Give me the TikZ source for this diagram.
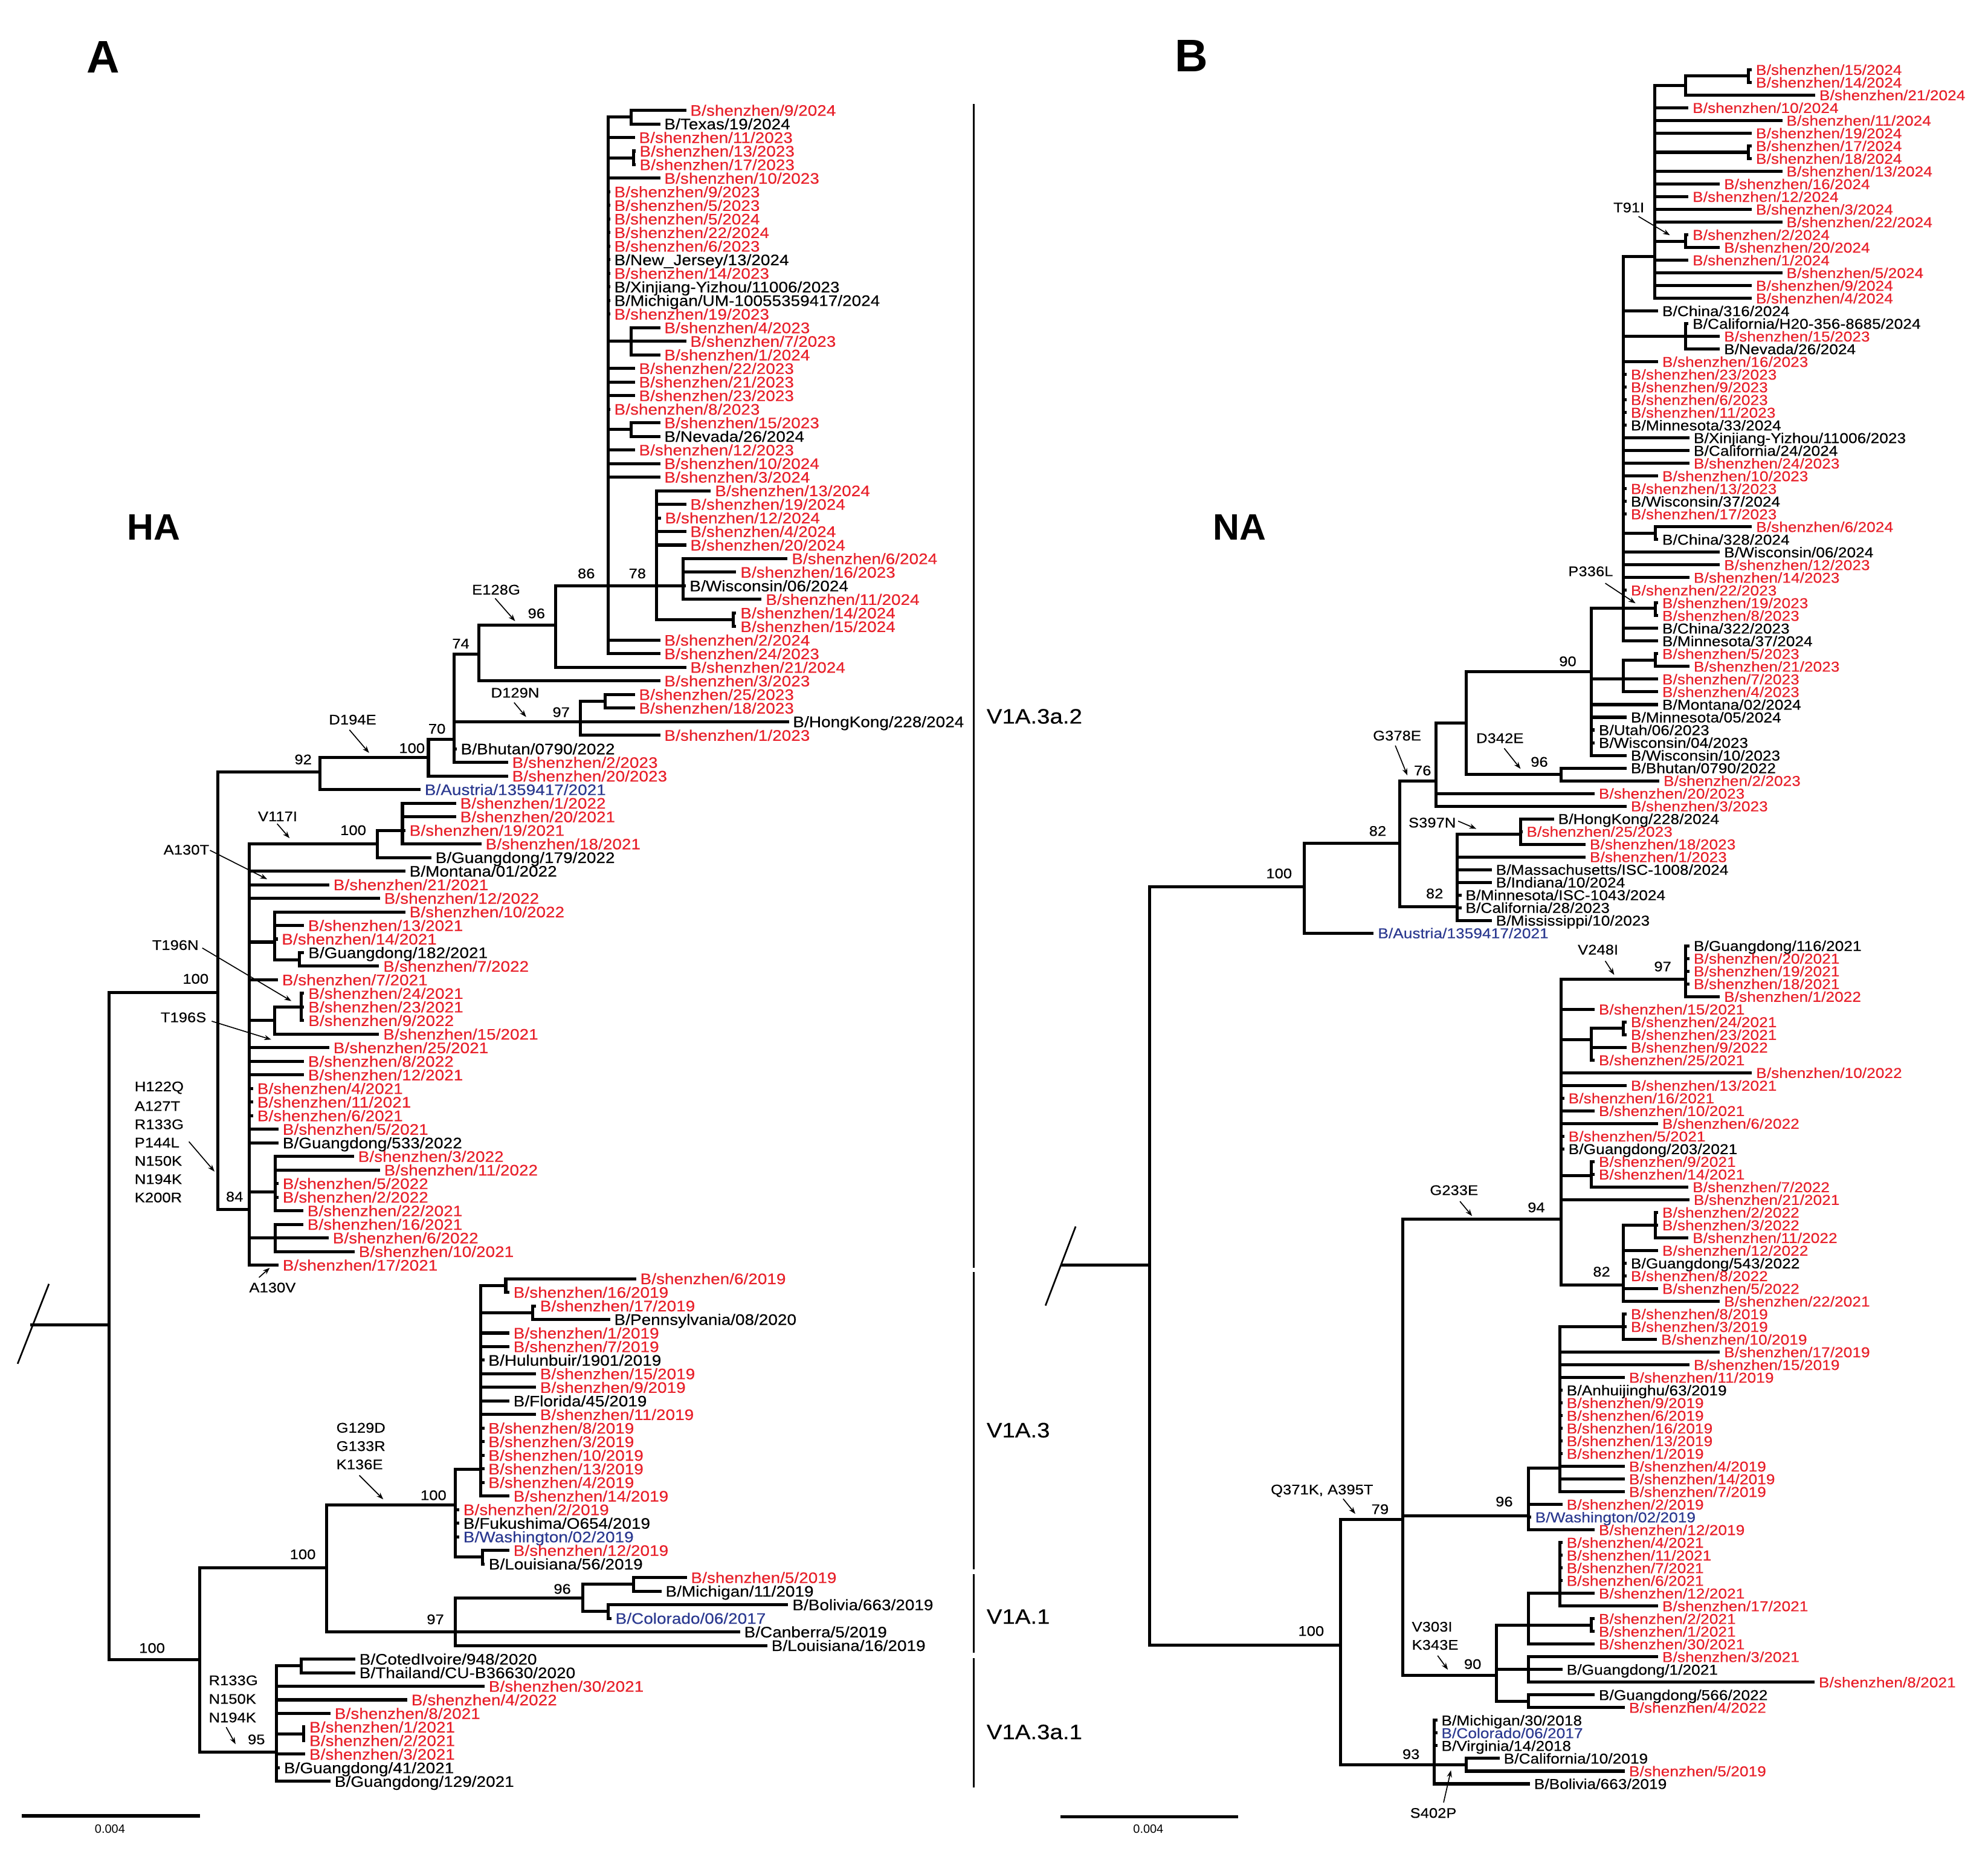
\documentclass[tikz,border=0pt]{standalone}
\usepackage{fontspec}
\setmainfont{Liberation Sans}[FakeStretch=1.11,FakeBold=0.35]
\newfontfamily\plainfont{Liberation Sans}
\usetikzlibrary{arrows.meta}
\definecolor{szred}{HTML}{E8202A}
\definecolor{szblue}{HTML}{2B3990}
\newcommand\SZ{B/shenzhen/}
\newcommand\ya[1]{87+(#1-1)*10.715}
\newcommand\yb[1]{55+(#1-1)*10.014}
\newcommand\LA[5]{\node[lfa,#4] (a#1) at (#3,{87+(#1-1)*10.715}) {#5};\draw[br] (#2,{87+(#1-1)*10.715}) -- (a#1.west);}
\newcommand\LB[5]{\node[lfb,#4] (b#1) at (#3,{55+(#1-1)*10.014}) {#5};\draw[br] (#2,{55+(#1-1)*10.014}) -- (b#1.west);}
\tikzset{
  br/.style={line width=2.4pt, line cap=rect},
  lfa/.style={anchor=west, inner xsep=4.3pt, inner ysep=0pt, text height=8.6pt, text depth=0pt, font=\fontsize{12}{12}\selectfont},
  lfb/.style={anchor=west, inner xsep=4.3pt, inner ysep=0pt, text height=8.1pt, text depth=0pt, font=\fontsize{11.3}{11.3}\selectfont},
  rd/.style={text=szred}, bl/.style={text=szblue}, bk/.style={text=black},
  sup/.style={inner sep=0pt, font=\fontsize{11}{11}\selectfont},
  mutl/.style={inner sep=0pt, font=\fontsize{11}{11}\selectfont},
  mut/.style={-{Stealth[length=5.5pt,width=4pt]}, line width=0.8pt},
  clade/.style={anchor=west, inner sep=0pt, font=\fontsize{16.5}{16.5}\selectfont},
  sep/.style={line width=1.2pt},
}
\begin{document}
\begin{tikzpicture}[x=1pt,y=-1pt]
\fill[white] (0,0) rectangle (1568,1469);
\useasboundingbox (0,0) rectangle (1568,1469);

% ---------------- panel letters and titles
\node[font=\plainfont\bfseries\fontsize{36}{36}\selectfont, inner sep=0pt] (pA) at (81.5,45) {A};
\node[font=\plainfont\bfseries\fontsize{36}{36}\selectfont, inner sep=0pt] (pB) at (939.7,44) {B};
\node[font=\plainfont\bfseries\fontsize{29}{29}\selectfont, inner sep=0pt] (ha) at (121.5,416) {HA};
\node[font=\plainfont\bfseries\fontsize{29}{29}\selectfont, inner sep=0pt] (na) at (977.8,416) {NA};

% ================= PANEL A : internal branches
\draw[br] (498,{\ya{1}}) -- (498,{\ya{2}});
\draw[br] (479.5,92.4) -- (498,92.4);
\draw[br] (499.5,{\ya{4}}) -- (499.5,{\ya{5}});
\draw[br] (479.5,124.5) -- (499.5,124.5);
\draw[br] (498,{\ya{17}}) -- (498,{\ya{19}});
\draw[br] (498,{\ya{24}}) -- (498,{\ya{25}});
\draw[br] (479.5,338.8) -- (498,338.8);
\draw[br] (479.5,92.4) -- (479.5,{\ya{41}});
\draw[br] (438,462) -- (539,462);
\draw[br] (517.7,{\ya{29}}) -- (517.7,488.9);
\draw[br] (539,{\ya{34}}) -- (539,{\ya{37}});
\draw[br] (578.5,{\ya{38}}) -- (578.5,{\ya{39}});
\draw[br] (517.7,488.9) -- (578.5,488.9);
\draw[br] (438,462) -- (438,{\ya{42}});
\draw[br] (377.5,493) -- (438,493);
\draw[br] (377.5,493) -- (377.5,{\ya{43}});
\draw[br] (477.4,{\ya{44}}) -- (477.4,{\ya{45}});
\draw[br] (457.7,553.1) -- (477.4,553.1);
\draw[br] (457.7,553.1) -- (457.7,{\ya{47}});
\draw[br] (358,515.7) -- (377.5,515.7);
\draw[br] (358,515.7) -- (358,{\ya{49}});
\draw[br] (337.9,583) -- (358,583);
\draw[br] (337.9,583) -- (337.9,{\ya{50}});
\draw[br] (252.2,597.5) -- (337.9,597.5);
\draw[br] (252.2,597.5) -- (252.2,{\ya{51}});
\draw[br] (172,609) -- (252.2,609);
\draw[br] (172,609) -- (172,953.8);
\draw[br] (172,953.8) -- (196.8,953.8);
\draw[br] (196.8,665.5) -- (196.8,{\ya{86}});
\draw[br] (196.8,665.5) -- (297.6,665.5);
\draw[br] (297.6,{\ya{54}}) -- (297.6,{\ya{56}});
\draw[br] (297.6,{\ya{54}}) -- (317.4,{\ya{54}});
\draw[br] (317.4,{\ya{52}}) -- (317.4,{\ya{55}});
\draw[br] (196.8,743) -- (216.6,743);
\draw[br] (216.6,{\ya{60}}) -- (216.6,756.9);
\draw[br] (216.6,756.9) -- (236.3,756.9);
\draw[br] (236.3,{\ya{63}}) -- (236.3,{\ya{64}});
\draw[br] (216.6,{\ya{67}}) -- (237.5,{\ya{67}});
\draw[br] (237.5,{\ya{66}}) -- (237.5,{\ya{68}});
\draw[br] (196.8,{\ya{68}}) -- (216.6,{\ya{68}});
\draw[br] (216.6,{\ya{67}}) -- (216.6,{\ya{69}});
\draw[br] (196.8,940.3) -- (217,940.3);
\draw[br] (217,{\ya{78}}) -- (217,{\ya{82}});
\draw[br] (217,{\ya{83}}) -- (217,{\ya{85}});
\draw[br] (86.2,782.7) -- (172,782.7);
\draw[br] (86.2,782.7) -- (86.2,1309);
\draw[br] (24.8,1045) -- (86.2,1045);
\draw[line width=1.3pt] (38.6,1012.6) -- (13.9,1075.6);
\draw[br] (86.2,1309) -- (157.6,1309);
\draw[br] (157.6,1236.3) -- (157.6,1381.8);
\draw[br] (157.6,1236.3) -- (257.7,1236.3);
\draw[br] (257.7,1187.1) -- (257.7,{\ya{113}});
\draw[br] (257.7,1187.1) -- (359.2,1187.1);
\draw[br] (359.2,1159) -- (359.2,1228.1);
\draw[br] (359.2,1159) -- (379,1159);
\draw[br] (379,1013.8) -- (379,{\ya{103}});
\draw[br] (379,1013.8) -- (398.9,1013.8);
\draw[br] (398.9,{\ya{87}}) -- (398.9,{\ya{88}});
\draw[br] (379,1035.3) -- (420.2,1035.3);
\draw[br] (420.2,{\ya{89}}) -- (420.2,{\ya{90}});
\draw[br] (359.2,1228.1) -- (380.5,1228.1);
\draw[br] (380.5,{\ya{107}}) -- (380.5,{\ya{108}});
\draw[br] (359.2,1260.3) -- (459.8,1260.3);
\draw[br] (359.2,1260.3) -- (359.2,{\ya{114}});
\draw[br] (459.8,1249.6) -- (459.8,1271.0);
\draw[br] (459.8,1249.6) -- (499.5,1249.6);
\draw[br] (499.5,{\ya{109}}) -- (499.5,{\ya{110}});
\draw[br] (459.8,1271.0) -- (479.6,1271.0);
\draw[br] (479.6,{\ya{111}}) -- (479.6,{\ya{112}});
\draw[br] (157.6,1381.8) -- (218,1381.8);
\draw[br] (218,1313.9) -- (218,{\ya{124}});
\draw[br] (218,1313.9) -- (237.8,1313.9);
\draw[br] (237.8,{\ya{115}}) -- (237.8,{\ya{116}});
\draw[br] (218,1367.5) -- (239.3,1367.5);
\draw[br] (239.3,{\ya{120}}) -- (239.3,{\ya{121}});

% ================= PANEL A : leaves
\LA{1}{498}{540}{rd}{\SZ 9/2024}
\LA{2}{498}{519.5}{bk}{B/Texas/19/2024}
\LA{3}{479.5}{499.5}{rd}{\SZ 11/2023}
\LA{4}{499.5}{500}{rd}{\SZ 13/2023}
\LA{5}{499.5}{500}{rd}{\SZ 17/2023}
\LA{6}{479.5}{519.5}{rd}{\SZ 10/2023}
\LA{7}{479.5}{480}{rd}{\SZ 9/2023}
\LA{8}{479.5}{480}{rd}{\SZ 5/2023}
\LA{9}{479.5}{480}{rd}{\SZ 5/2024}
\LA{10}{479.5}{480}{rd}{\SZ 22/2024}
\LA{11}{479.5}{480}{rd}{\SZ 6/2023}
\LA{12}{479.5}{480}{bk}{B/New\_Jersey/13/2024}
\LA{13}{479.5}{480}{rd}{\SZ 14/2023}
\LA{14}{479.5}{480}{bk}{B/Xinjiang-Yizhou/11006/2023}
\LA{15}{479.5}{480}{bk}{B/Michigan/UM-10055359417/2024}
\LA{16}{479.5}{480}{rd}{\SZ 19/2023}
\LA{17}{498}{519.5}{rd}{\SZ 4/2023}
\LA{18}{479.5}{540}{rd}{\SZ 7/2023}
\LA{19}{498}{519.5}{rd}{\SZ 1/2024}
\LA{20}{479.5}{499.5}{rd}{\SZ 22/2023}
\LA{21}{479.5}{499.5}{rd}{\SZ 21/2023}
\LA{22}{479.5}{499.5}{rd}{\SZ 23/2023}
\LA{23}{479.5}{480}{rd}{\SZ 8/2023}
\LA{24}{498}{519.5}{rd}{\SZ 15/2023}
\LA{25}{498}{519.5}{bk}{B/Nevada/26/2024}
\LA{26}{479.5}{499.5}{rd}{\SZ 12/2023}
\LA{27}{479.5}{519.5}{rd}{\SZ 10/2024}
\LA{28}{479.5}{519.5}{rd}{\SZ 3/2024}
\LA{29}{517.7}{559.5}{rd}{\SZ 13/2024}
\LA{30}{517.7}{540}{rd}{\SZ 19/2024}
\LA{31}{517.7}{520}{rd}{\SZ 12/2024}
\LA{32}{517.7}{540}{rd}{\SZ 4/2024}
\LA{33}{517.7}{540}{rd}{\SZ 20/2024}
\LA{34}{539}{620}{rd}{\SZ 6/2024}
\LA{35}{539}{579.5}{rd}{\SZ 16/2023}
\LA{36}{539}{539.5}{bk}{B/Wisconsin/06/2024}
\LA{37}{539}{599.5}{rd}{\SZ 11/2024}
\LA{38}{578.5}{579.5}{rd}{\SZ 14/2024}
\LA{39}{578.5}{579.5}{rd}{\SZ 15/2024}
\LA{40}{479.5}{519.5}{rd}{\SZ 2/2024}
\LA{41}{479.5}{519.5}{rd}{\SZ 24/2023}
\LA{42}{438}{540}{rd}{\SZ 21/2024}
\LA{43}{377.5}{519.5}{rd}{\SZ 3/2023}
\LA{44}{477.4}{499.5}{rd}{\SZ 25/2023}
\LA{45}{477.4}{499.5}{rd}{\SZ 18/2023}
\LA{46}{358}{621}{bk}{B/HongKong/228/2024}
\LA{47}{457.7}{519.5}{rd}{\SZ 1/2023}
\LA{48}{358}{359}{bk}{B/Bhutan/0790/2022}
\LA{49}{358}{399.5}{rd}{\SZ 2/2023}
\LA{50}{337.9}{399.5}{rd}{\SZ 20/2023}
\LA{51}{252.2}{330.5}{bl}{B/Austria/1359417/2021}
\LA{52}{317.4}{358.5}{rd}{\SZ 1/2022}
\LA{53}{317.4}{358.5}{rd}{\SZ 20/2021}
\LA{54}{317.4}{318.5}{rd}{\SZ 19/2021}
\LA{55}{317.4}{378.5}{rd}{\SZ 18/2021}
\LA{56}{297.6}{339}{bk}{B/Guangdong/179/2022}
\LA{57}{196.8}{318.5}{bk}{B/Montana/01/2022}
\LA{58}{196.8}{258.5}{rd}{\SZ 21/2021}
\LA{59}{196.8}{298.5}{rd}{\SZ 12/2022}
\LA{60}{216.6}{318.5}{rd}{\SZ 10/2022}
\LA{61}{216.6}{238.5}{rd}{\SZ 13/2021}
\LA{62}{216.6}{217.8}{rd}{\SZ 14/2021}
\LA{63}{236.3}{238.7}{bk}{B/Guangdong/182/2021}
\LA{64}{236.3}{297.8}{rd}{\SZ 7/2022}
\LA{65}{196.8}{218}{rd}{\SZ 7/2021}
\LA{66}{237.5}{238.7}{rd}{\SZ 24/2021}
\LA{67}{237.5}{238.7}{rd}{\SZ 23/2021}
\LA{68}{237.5}{238.7}{rd}{\SZ 9/2022}
\LA{69}{216.6}{297.8}{rd}{\SZ 15/2021}
\LA{70}{196.8}{258.5}{rd}{\SZ 25/2021}
\LA{71}{196.8}{238.5}{rd}{\SZ 8/2022}
\LA{72}{196.8}{238.5}{rd}{\SZ 12/2021}
\LA{73}{196.8}{198.5}{rd}{\SZ 4/2021}
\LA{74}{196.8}{198.5}{rd}{\SZ 11/2021}
\LA{75}{196.8}{198.5}{rd}{\SZ 6/2021}
\LA{76}{196.8}{218.5}{rd}{\SZ 5/2021}
\LA{77}{196.8}{218.5}{bk}{B/Guangdong/533/2022}
\LA{78}{217}{278}{rd}{\SZ 3/2022}
\LA{79}{217}{298.5}{rd}{\SZ 11/2022}
\LA{80}{217}{218.5}{rd}{\SZ 5/2022}
\LA{81}{217}{218.5}{rd}{\SZ 2/2022}
\LA{82}{217}{238}{rd}{\SZ 22/2021}
\LA{83}{217}{238}{rd}{\SZ 16/2021}
\LA{84}{196.8}{258}{rd}{\SZ 6/2022}
\LA{85}{217}{278.5}{rd}{\SZ 10/2021}
\LA{86}{196.8}{218.5}{rd}{\SZ 17/2021}
\LA{87}{398.9}{500.5}{rd}{\SZ 6/2019}
\LA{88}{398.9}{400.5}{rd}{\SZ 16/2019}
\LA{89}{420.2}{421.5}{rd}{\SZ 17/2019}
\LA{90}{420.2}{480}{bk}{B/Pennsylvania/08/2020}
\LA{91}{379}{400.5}{rd}{\SZ 1/2019}
\LA{92}{379}{400.5}{rd}{\SZ 7/2019}
\LA{93}{379}{380.8}{bk}{B/Hulunbuir/1901/2019}
\LA{94}{379}{421.5}{rd}{\SZ 15/2019}
\LA{95}{379}{421.5}{rd}{\SZ 9/2019}
\LA{96}{379}{400.5}{bk}{B/Florida/45/2019}
\LA{97}{379}{421.5}{rd}{\SZ 11/2019}
\LA{98}{379}{380.8}{rd}{\SZ 8/2019}
\LA{99}{379}{380.8}{rd}{\SZ 3/2019}
\LA{100}{379}{380.8}{rd}{\SZ 10/2019}
\LA{101}{379}{380.8}{rd}{\SZ 13/2019}
\LA{102}{379}{380.8}{rd}{\SZ 4/2019}
\LA{103}{379}{400.5}{rd}{\SZ 14/2019}
\LA{104}{359.2}{361}{rd}{\SZ 2/2019}
\LA{105}{359.2}{361}{bk}{B/Fukushima/O654/2019}
\LA{106}{359.2}{361}{bl}{B/Washington/02/2019}
\LA{107}{380.5}{400.5}{rd}{\SZ 12/2019}
\LA{108}{380.5}{381}{bk}{B/Louisiana/56/2019}
\LA{109}{499.5}{540.5}{rd}{\SZ 5/2019}
\LA{110}{499.5}{520.5}{bk}{B/Michigan/11/2019}
\LA{111}{479.6}{620.5}{bk}{B/Bolivia/663/2019}
\LA{112}{479.6}{481}{bl}{B/Colorado/06/2017}
\LA{113}{257.7}{582.5}{bk}{B/Canberra/5/2019}
\LA{114}{359.2}{604}{bk}{B/Louisiana/16/2019}
\LA{115}{237.8}{279}{bk}{B/CotedIvoire/948/2020}
\LA{116}{237.8}{279}{bk}{B/Thailand/CU-B36630/2020}
\LA{117}{218}{381}{rd}{\SZ 30/2021}
\LA{118}{218}{320}{rd}{\SZ 4/2022}
\LA{119}{218}{259.5}{rd}{\SZ 8/2021}
\LA{120}{239.3}{239.6}{rd}{\SZ 1/2021}
\LA{121}{239.3}{239.6}{rd}{\SZ 2/2021}
\LA{122}{218}{239.5}{rd}{\SZ 3/2021}
\LA{123}{218}{219.5}{bk}{B/Guangdong/41/2021}
\LA{124}{218}{259.5}{bk}{B/Guangdong/129/2021}

% ================= PANEL A : support values
\node[sup] (sa86) at (462.4,452.3) {86};
\node[sup] (sa78) at (502.7,452.3) {78};
\node[sup] (sa96) at (423.1,483.8) {96};
\node[sup] (sa74) at (363.4,507.6) {74};
\node[sup] (sa97) at (442.6,561.7) {97};
\node[sup] (sa70) at (344.6,574.8) {70};
\node[sup] (sa100d) at (324.9,590.1) {100};
\node[sup] (sa92) at (239.1,599.0) {92};
\node[sup] (sa100v) at (278.6,654.8) {100};
\node[sup] (sa100a) at (154.3,772) {100};
\node[sup] (sa84) at (185,943.8) {84};
\node[sup] (sa100r) at (119.9,1299.8) {100};
\node[sup] (sa100b) at (238.8,1225.9) {100};
\node[sup] (sa100g) at (341.9,1179.3) {100};
\node[sup] (sa96b) at (443.5,1253.2) {96};
\node[sup] (sa97b) at (343.4,1277.2) {97};
\node[sup] (sa95) at (202.2,1371.9) {95};

% ================= PANEL A : mutations
\node[mutl] (ma1) at (391.3,465.1) {E128G};
\draw[mut] (390.5,471.9) -- (406.3,489.9);
\node[mutl] (ma2) at (406.3,546.4) {D129N};
\draw[mut] (405.5,554.1) -- (415,565.5);
\node[mutl] (ma3) at (278.1,567.6) {D194E};
\draw[mut] (275.6,575.6) -- (291.1,593.8);
\node[mutl] (ma4) at (219,643.9) {V117I};
\draw[mut] (218.6,649.7) -- (228.4,661.1);
\node[mutl] (ma5) at (147,670.2) {A130T};
\draw[mut] (165.6,670.6) -- (210.7,693.4);
\node[mutl] (ma6) at (138.3,745.4) {T196N};
\draw[mut] (159.6,747.7) -- (229.8,789.5);
\node[mutl] (ma7) at (144.7,802.4) {T196S};
\draw[mut] (167,805.4) -- (213.9,819.9);
\foreach \t [count=\i] in {H122Q,A127T,R133G,P144L,N150K,N194K,K200R}
  \node[mutl, anchor=west] (mh\i) at (106,{857.9+(\i-1)*14.43}) {\t};
\draw[mut] (149,900.4) -- (169.2,924);
\node[mutl] (ma8) at (214.9,1015.5) {A130V};
\draw[mut] (204.3,1007.5) -- (212.8,999.9);
\foreach \t [count=\i] in {G129D,G133R,K136E}
  \node[mutl, anchor=west] (mg\i) at (265.1,{1126.1+(\i-1)*14.45}) {\t};
\draw[mut] (283.4,1163.6) -- (302.3,1182.5);
\foreach \t [count=\i] in {R133G,N150K,N194K}
  \node[mutl, anchor=west] (mr\i) at (164.5,{1325.3+(\i-1)*14.65}) {\t};
\draw[mut] (178.4,1362.2) -- (185.8,1375.6);

% ================= PANEL A : clade bar and labels
\draw[sep] (768,82.2) -- (768,999.9);
\draw[sep] (768,1003.3) -- (768,1237.5);
\draw[sep] (768,1241.6) -- (768,1303.3);
\draw[sep] (768,1307.9) -- (768,1409.6);
\node[clade] (c1) at (778,565) {V1A.3a.2};
\node[clade] (c2) at (778,1128) {V1A.3};
\node[clade] (c3) at (778,1275) {V1A.1};
\node[clade] (c4) at (778,1366) {V1A.3a.1};

% scale bars
\draw[line width=2.6pt] (17.3,1432.2) -- (157.6,1432.2);
\node[inner sep=0pt, font=\plainfont\fontsize{9.5}{9.5}\selectfont] (scA) at (86.7,1442.6) {0.004};
\draw[line width=2.6pt] (836.5,1432.8) -- (976.4,1432.8);
\node[inner sep=0pt, font=\plainfont\fontsize{9.5}{9.5}\selectfont] (scB) at (905.7,1442.6) {0.004};

% ================= PANEL B : internal branches
\draw[br] (1379.2,{\yb{1}}) -- (1379.2,{\yb{2}});
\draw[br] (1329.6,60) -- (1379.2,60);
\draw[br] (1329.6,60) -- (1329.6,{\yb{3}});
\draw[br] (1305.2,67.4) -- (1329.6,67.4);
\draw[br] (1305.2,67.4) -- (1305.2,{\yb{19}});
\draw[br] (1379.2,{\yb{7}}) -- (1379.2,{\yb{8}});
\draw[br] (1305.2,120.1) -- (1379.2,120.1);
\draw[br] (1329.6,{\yb{14}}) -- (1329.6,{\yb{15}});
\draw[br] (1305.2,190.2) -- (1329.6,190.2);
\draw[br] (1280.4,202.5) -- (1305.2,202.5);
\draw[br] (1280.4,202.5) -- (1280.4,{\yb{46}});
\draw[br] (1329.6,{\yb{21}}) -- (1329.6,{\yb{23}});
\draw[br] (1305.7,{\yb{37}}) -- (1305.7,{\yb{38}});
\draw[br] (1280.4,420.5) -- (1305.7,420.5);
\draw[br] (1305.7,{\yb{43}}) -- (1305.7,{\yb{44}});
\draw[br] (1255.1,479.5) -- (1305.7,479.5);
\draw[br] (1305.7,{\yb{47}}) -- (1305.7,{\yb{48}});
\draw[br] (1280.4,520.6) -- (1305.7,520.6);
\draw[br] (1280.4,520.6) -- (1280.4,{\yb{50}});
\draw[br] (1255.1,479.5) -- (1255.1,{\yb{55}});
\draw[br] (1231.2,{\yb{56}}) -- (1231.2,{\yb{57}});
\draw[br] (1156.3,610.8) -- (1231.2,610.8);
\draw[br] (1156.3,529.7) -- (1156.3,610.8);
\draw[br] (1156.3,529.7) -- (1255.1,529.7);
\draw[br] (1132.4,570.2) -- (1156.3,570.2);
\draw[br] (1132.4,570.2) -- (1132.4,{\yb{59}});
\draw[br] (1103.8,616.2) -- (1132.4,616.2);
\draw[br] (1103.8,616.2) -- (1103.8,715.3);
\draw[br] (1103.8,715.3) -- (1149.1,715.3);
\draw[br] (1149.1,657.8) -- (1149.1,{\yb{68}});
\draw[br] (1199.3,{\yb{60}}) -- (1199.3,{\yb{62}});
\draw[br] (1149.1,657.8) -- (1199.3,657.8);
\draw[br] (1028.9,665.1) -- (1103.8,665.1);
\draw[br] (1028.9,665.1) -- (1028.9,{\yb{69}});
\draw[br] (906.7,699.6) -- (1028.9,699.6);
\draw[br] (906.7,699.6) -- (906.7,1297.3);
\draw[br] (838,997.9) -- (906.7,997.9);
\draw[line width=1.3pt] (848.4,967.3) -- (824.6,1029.7);
\draw[br] (1329.6,{\yb{70}}) -- (1329.6,{\yb{74}});
\draw[br] (1231.2,772.3) -- (1329.6,772.3);
\draw[br] (1231.2,772.3) -- (1231.2,1013.5);
\draw[br] (1280.4,{\yb{76}}) -- (1280.4,{\yb{77}});
\draw[br] (1255.1,810.8) -- (1280.4,810.8);
\draw[br] (1255.1,810.8) -- (1255.1,{\yb{79}});
\draw[br] (1231.2,819.9) -- (1255.1,819.9);
\draw[br] (1255.1,{\yb{87}}) -- (1255.1,{\yb{89}});
\draw[br] (1231.2,927) -- (1255.1,927);
\draw[br] (1305.7,{\yb{91}}) -- (1305.7,{\yb{93}});
\draw[br] (1280.4,966.3) -- (1305.7,966.3);
\draw[br] (1280.4,966.3) -- (1280.4,{\yb{98}});
\draw[br] (1231.2,1013.5) -- (1280.4,1013.5);
\draw[br] (1106.2,961.6) -- (1231.2,961.6);
\draw[br] (1106.2,961.6) -- (1106.2,1321.2);
\draw[br] (1280.4,{\yb{99}}) -- (1280.4,{\yb{101}});
\draw[br] (1230.3,{\yb{100}}) -- (1280.4,{\yb{100}});
\draw[br] (1230.3,{\yb{100}}) -- (1230.3,{\yb{113}});
\draw[br] (1205.5,1158) -- (1230.3,1158);
\draw[br] (1205.5,1158) -- (1205.5,{\yb{116}});
\draw[br] (1106.2,1195.4) -- (1205.5,1195.4);
\draw[br] (1057.5,1198.6) -- (1106.2,1198.6);
\draw[br] (1057.5,1198.6) -- (1057.5,1391.8);
\draw[br] (906.7,1297.3) -- (1057.5,1297.3);
\draw[br] (1106.2,1321.2) -- (1180.2,1321.2);
\draw[br] (1180.2,1282) -- (1180.2,1341.8);
\draw[br] (1230.3,{\yb{117}}) -- (1230.3,{\yb{122}});
\draw[br] (1205.5,{\yb{121}}) -- (1205.5,{\yb{125}});
\draw[br] (1180.2,1282) -- (1255.1,1282);
\draw[br] (1255.1,{\yb{123}}) -- (1255.1,{\yb{124}});
\draw[br] (1205.5,{\yb{126}}) -- (1205.5,{\yb{128}});
\draw[br] (1205.5,{\yb{129}}) -- (1205.5,{\yb{130}});
\draw[br] (1180.2,1341.8) -- (1205.5,1341.8);
\draw[br] (1131,{\yb{131}}) -- (1131,{\yb{136}});
\draw[br] (1057.5,1391.8) -- (1156.3,1391.8);
\draw[br] (1156.3,{\yb{134}}) -- (1156.3,{\yb{135}});

% ================= PANEL B : leaves
\LB{1}{1379.2}{1380.5}{rd}{\SZ 15/2024}
\LB{2}{1379.2}{1380.5}{rd}{\SZ 14/2024}
\LB{3}{1329.6}{1430.5}{rd}{\SZ 21/2024}
\LB{4}{1305.2}{1330.5}{rd}{\SZ 10/2024}
\LB{5}{1305.2}{1404.5}{rd}{\SZ 11/2024}
\LB{6}{1305.2}{1380.5}{rd}{\SZ 19/2024}
\LB{7}{1379.2}{1380.5}{rd}{\SZ 17/2024}
\LB{8}{1379.2}{1380.5}{rd}{\SZ 18/2024}
\LB{9}{1305.2}{1404.5}{rd}{\SZ 13/2024}
\LB{10}{1305.2}{1355.3}{rd}{\SZ 16/2024}
\LB{11}{1305.2}{1330.5}{rd}{\SZ 12/2024}
\LB{12}{1305.2}{1380.5}{rd}{\SZ 3/2024}
\LB{13}{1305.2}{1404.5}{rd}{\SZ 22/2024}
\LB{14}{1329.6}{1330.5}{rd}{\SZ 2/2024}
\LB{15}{1329.6}{1355.3}{rd}{\SZ 20/2024}
\LB{16}{1305.2}{1330.5}{rd}{\SZ 1/2024}
\LB{17}{1305.2}{1404.5}{rd}{\SZ 5/2024}
\LB{18}{1305.2}{1380.5}{rd}{\SZ 9/2024}
\LB{19}{1305.2}{1380.5}{rd}{\SZ 4/2024}
\LB{20}{1280.4}{1306.6}{bk}{B/China/316/2024}
\LB{21}{1329.6}{1330.5}{bk}{B/California/H20-356-8685/2024}
\LB{22}{1280.4}{1355.3}{rd}{\SZ 15/2023}
\LB{23}{1329.6}{1355.3}{bk}{B/Nevada/26/2024}
\LB{24}{1280.4}{1306.6}{rd}{\SZ 16/2023}
\LB{25}{1280.4}{1281.8}{rd}{\SZ 23/2023}
\LB{26}{1280.4}{1281.8}{rd}{\SZ 9/2023}
\LB{27}{1280.4}{1281.8}{rd}{\SZ 6/2023}
\LB{28}{1280.4}{1281.8}{rd}{\SZ 11/2023}
\LB{29}{1280.4}{1281.8}{bk}{B/Minnesota/33/2024}
\LB{30}{1280.4}{1331.4}{bk}{B/Xinjiang-Yizhou/11006/2023}
\LB{31}{1280.4}{1331.4}{bk}{B/California/24/2024}
\LB{32}{1280.4}{1331.4}{rd}{\SZ 24/2023}
\LB{33}{1280.4}{1306.6}{rd}{\SZ 10/2023}
\LB{34}{1280.4}{1281.8}{rd}{\SZ 13/2023}
\LB{35}{1280.4}{1281.8}{bk}{B/Wisconsin/37/2024}
\LB{36}{1280.4}{1281.8}{rd}{\SZ 17/2023}
\LB{37}{1305.7}{1380.6}{rd}{\SZ 6/2024}
\LB{38}{1305.7}{1306.6}{bk}{B/China/328/2024}
\LB{39}{1280.4}{1355.3}{bk}{B/Wisconsin/06/2024}
\LB{40}{1280.4}{1355.3}{rd}{\SZ 12/2023}
\LB{41}{1280.4}{1331.4}{rd}{\SZ 14/2023}
\LB{42}{1280.4}{1281.8}{rd}{\SZ 22/2023}
\LB{43}{1305.7}{1306.6}{rd}{\SZ 19/2023}
\LB{44}{1305.7}{1306.6}{rd}{\SZ 8/2023}
\LB{45}{1280.4}{1306.6}{bk}{B/China/322/2023}
\LB{46}{1280.4}{1306.6}{bk}{B/Minnesota/37/2024}
\LB{47}{1305.7}{1306.6}{rd}{\SZ 5/2023}
\LB{48}{1305.7}{1331.4}{rd}{\SZ 21/2023}
\LB{49}{1255.1}{1306.6}{rd}{\SZ 7/2023}
\LB{50}{1280.4}{1306.6}{rd}{\SZ 4/2023}
\LB{51}{1255.1}{1306.6}{bk}{B/Montana/02/2024}
\LB{52}{1255.1}{1281.8}{bk}{B/Minnesota/05/2024}
\LB{53}{1255.1}{1256.5}{bk}{B/Utah/06/2023}
\LB{54}{1255.1}{1256.5}{bk}{B/Wisconsin/04/2023}
\LB{55}{1255.1}{1281.8}{bk}{B/Wisconsin/10/2023}
\LB{56}{1231.2}{1281.8}{bk}{B/Bhutan/0790/2022}
\LB{57}{1231.2}{1307.6}{rd}{\SZ 2/2023}
\LB{58}{1132.4}{1256.5}{rd}{\SZ 20/2023}
\LB{59}{1132.4}{1281.8}{rd}{\SZ 3/2023}
\LB{60}{1199.3}{1224.5}{bk}{B/HongKong/228/2024}
\LB{61}{1199.3}{1199.6}{rd}{\SZ 25/2023}
\LB{62}{1199.3}{1249.4}{rd}{\SZ 18/2023}
\LB{63}{1149.1}{1249.4}{rd}{\SZ 1/2023}
\LB{64}{1149.1}{1175.4}{bk}{B/Massachusetts/ISC-1008/2024}
\LB{65}{1149.1}{1175.4}{bk}{B/Indiana/10/2024}
\LB{66}{1149.1}{1151.5}{bk}{B/Minnesota/ISC-1043/2024}
\LB{67}{1149.1}{1151.5}{bk}{B/California/28/2023}
\LB{68}{1149.1}{1175.4}{bk}{B/Mississippi/10/2023}
\LB{69}{1028.9}{1082.3}{bl}{B/Austria/1359417/2021}
\LB{70}{1329.6}{1331.4}{bk}{B/Guangdong/116/2021}
\LB{71}{1329.6}{1331.4}{rd}{\SZ 20/2021}
\LB{72}{1329.6}{1331.4}{rd}{\SZ 19/2021}
\LB{73}{1329.6}{1331.4}{rd}{\SZ 18/2021}
\LB{74}{1329.6}{1355.3}{rd}{\SZ 1/2022}
\LB{75}{1231.2}{1256.5}{rd}{\SZ 15/2021}
\LB{76}{1280.4}{1281.8}{rd}{\SZ 24/2021}
\LB{77}{1280.4}{1281.8}{rd}{\SZ 23/2021}
\LB{78}{1255.1}{1281.8}{rd}{\SZ 9/2022}
\LB{79}{1255.1}{1256.5}{rd}{\SZ 25/2021}
\LB{80}{1231.2}{1380.6}{rd}{\SZ 10/2022}
\LB{81}{1231.2}{1281.8}{rd}{\SZ 13/2021}
\LB{82}{1231.2}{1232.6}{rd}{\SZ 16/2021}
\LB{83}{1231.2}{1256.5}{rd}{\SZ 10/2021}
\LB{84}{1231.2}{1306.6}{rd}{\SZ 6/2022}
\LB{85}{1231.2}{1232.6}{rd}{\SZ 5/2021}
\LB{86}{1231.2}{1232.6}{bk}{B/Guangdong/203/2021}
\LB{87}{1255.1}{1256.5}{rd}{\SZ 9/2021}
\LB{88}{1255.1}{1256.5}{rd}{\SZ 14/2021}
\LB{89}{1255.1}{1330.5}{rd}{\SZ 7/2022}
\LB{90}{1231.2}{1331.4}{rd}{\SZ 21/2021}
\LB{91}{1305.7}{1306.6}{rd}{\SZ 2/2022}
\LB{92}{1305.7}{1306.6}{rd}{\SZ 3/2022}
\LB{93}{1305.7}{1330.5}{rd}{\SZ 11/2022}
\LB{94}{1280.4}{1306.6}{rd}{\SZ 12/2022}
\LB{95}{1280.4}{1281.8}{bk}{B/Guangdong/543/2022}
\LB{96}{1280.4}{1281.8}{rd}{\SZ 8/2022}
\LB{97}{1280.4}{1306.6}{rd}{\SZ 5/2022}
\LB{98}{1280.4}{1355.3}{rd}{\SZ 22/2021}
\LB{99}{1280.4}{1281.8}{rd}{\SZ 8/2019}
\LB{100}{1280.4}{1281.8}{rd}{\SZ 3/2019}
\LB{101}{1280.4}{1305.7}{rd}{\SZ 10/2019}
\LB{102}{1230.3}{1355.3}{rd}{\SZ 17/2019}
\LB{103}{1230.3}{1331.4}{rd}{\SZ 15/2019}
\LB{104}{1230.3}{1280.4}{rd}{\SZ 11/2019}
\LB{105}{1230.3}{1231.2}{bk}{B/Anhuijinghu/63/2019}
\LB{106}{1230.3}{1231.2}{rd}{\SZ 9/2019}
\LB{107}{1230.3}{1231.2}{rd}{\SZ 6/2019}
\LB{108}{1230.3}{1231.2}{rd}{\SZ 16/2019}
\LB{109}{1230.3}{1231.2}{rd}{\SZ 13/2019}
\LB{110}{1230.3}{1231.2}{rd}{\SZ 1/2019}
\LB{111}{1230.3}{1280.4}{rd}{\SZ 4/2019}
\LB{112}{1230.3}{1280.4}{rd}{\SZ 14/2019}
\LB{113}{1230.3}{1280.4}{rd}{\SZ 7/2019}
\LB{114}{1205.5}{1231.2}{rd}{\SZ 2/2019}
\LB{115}{1205.5}{1206.4}{bl}{B/Washington/02/2019}
\LB{116}{1205.5}{1256.5}{rd}{\SZ 12/2019}
\LB{117}{1230.3}{1231.2}{rd}{\SZ 4/2021}
\LB{118}{1230.3}{1231.2}{rd}{\SZ 11/2021}
\LB{119}{1230.3}{1231.2}{rd}{\SZ 7/2021}
\LB{120}{1230.3}{1231.2}{rd}{\SZ 6/2021}
\LB{121}{1205.5}{1256.5}{rd}{\SZ 12/2021}
\LB{122}{1230.3}{1306.6}{rd}{\SZ 17/2021}
\LB{123}{1255.1}{1256.5}{rd}{\SZ 2/2021}
\LB{124}{1255.1}{1256.5}{rd}{\SZ 1/2021}
\LB{125}{1205.5}{1256.5}{rd}{\SZ 30/2021}
\LB{126}{1205.5}{1306.6}{rd}{\SZ 3/2021}
\LB{127}{1180.2}{1231.2}{bk}{B/Guangdong/1/2021}
\LB{128}{1205.5}{1430}{rd}{\SZ 8/2021}
\LB{129}{1205.5}{1256.5}{bk}{B/Guangdong/566/2022}
\LB{130}{1205.5}{1280.4}{rd}{\SZ 4/2022}
\LB{131}{1131}{1132.4}{bk}{B/Michigan/30/2018}
\LB{132}{1131}{1132.4}{bl}{B/Colorado/06/2017}
\LB{133}{1131}{1132.4}{bk}{B/Virginia/14/2018}
\LB{134}{1156.3}{1181.6}{bk}{B/California/10/2019}
\LB{135}{1156.3}{1280.4}{rd}{\SZ 5/2019}
\LB{136}{1131}{1205.5}{bk}{B/Bolivia/663/2019}

% ================= PANEL B : support values
\node[sup] (sb90) at (1236.5,521.6) {90};
\node[sup] (sb96) at (1214.1,600.9) {96};
\node[sup] (sb76) at (1122,607.7) {76};
\node[sup] (sb82a) at (1086.6,655.4) {82};
\node[sup] (sb100) at (1008.8,688.9) {100};
\node[sup] (sb82b) at (1131.5,704.7) {82};
\node[sup] (sb97) at (1311.4,762.3) {97};
\node[sup] (sb94) at (1211.7,952.3) {94};
\node[sup] (sb82c) at (1263.2,1003) {82};
\node[sup] (sb79) at (1088.5,1190.3) {79};
\node[sup] (sb96b) at (1186.4,1184.3) {96};
\node[sup] (sb100b) at (1034.1,1286.4) {100};
\node[sup] (sb90b) at (1161.5,1312.5) {90};
\node[sup] (sb93) at (1112.9,1383.5) {93};

% ================= PANEL B : mutations
\node[mutl] (mb1) at (1284.7,163.7) {T91I};
\draw[mut] (1292.3,170.7) -- (1317.1,185.5);
\node[mutl] (mb2) at (1254.6,450.6) {P336L};
\draw[mut] (1266.1,460) -- (1290,475.8);
\node[mutl] (mb3) at (1101.9,580.2) {G378E};
\draw[mut] (1100.5,588) -- (1110,611.5);
\node[mutl] (mb4) at (1183,582.2) {D342E};
\draw[mut] (1186.4,590.2) -- (1199.3,606.4);
\node[mutl] (mb5) at (1129.6,648.8) {S397N};
\draw[mut] (1150.1,647.6) -- (1164.4,653.7);
\node[mutl] (mb6) at (1260.4,749) {V248I};
\draw[mut] (1266.1,757.9) -- (1273.2,768.9);
\node[mutl] (mb7) at (1146.8,938.7) {G233E};
\draw[mut] (1151.5,947.5) -- (1161.1,959.1);
\node[mutl] (mb8) at (1042.7,1175.8) {Q371K, A395T};
\draw[mut] (1059.4,1182.1) -- (1069,1194);
\node[mutl, anchor=west] (mb9) at (1113.4,1283.0) {V303I};
\node[mutl, anchor=west] (mb10) at (1113.4,1297.3) {K343E};
\draw[mut] (1133.9,1305.8) -- (1142,1316.9);
\node[mutl] (mb11) at (1130.5,1429.9) {S402P};
\draw[mut] (1138.6,1421.6) -- (1144.4,1396.2);
\end{tikzpicture}
\end{document}
